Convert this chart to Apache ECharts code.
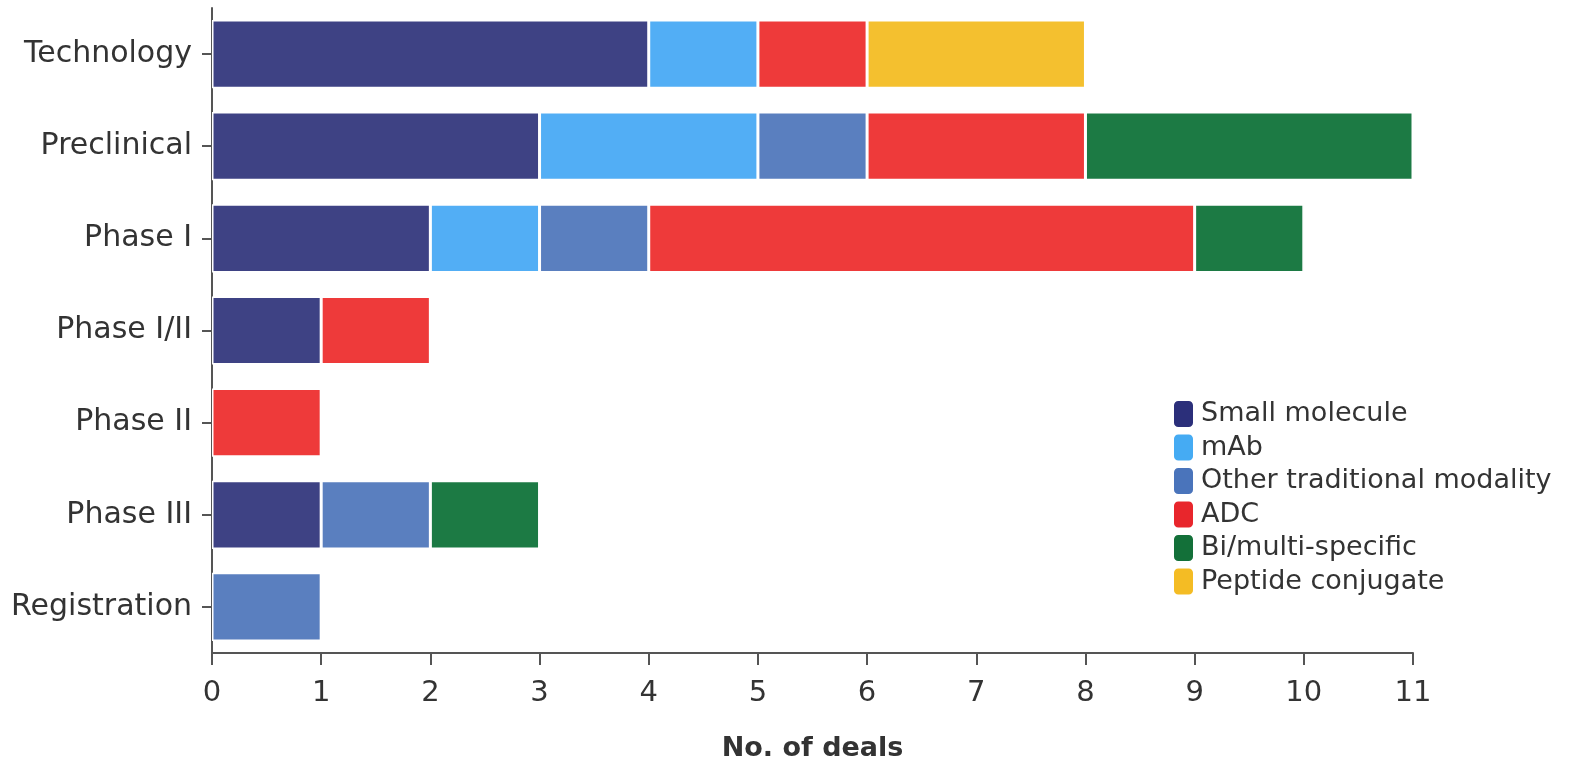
<!DOCTYPE html>
<html><head><meta charset="utf-8">
<script src="https://cdn.jsdelivr.net/npm/echarts@6/dist/echarts.min.js"></script>
<style>html,body{margin:0;padding:0;background:#fff}#c{width:1580px;height:762px}</style>
</head><body><div id="c"></div>
<script>
const categories = ['Technology','Preclinical','Phase I','Phase I/II','Phase II','Phase III','Registration'];
const seriesNames = ['Small molecule','mAb','Other traditional modality','ADC','Bi/multi-specific','Peptide conjugate'];
const smallMolecule = [4,3,2,1,0,1,0];
const mAb = [1,2,1,0,0,0,0];
const otherTraditional = [0,1,1,0,0,1,1];
const adc = [1,2,5,1,1,0,0];
const biMulti = [0,3,1,0,0,1,0];
const peptide = [2,0,0,0,0,0,0];
const xTicks = [0,1,2,3,4,5,6,7,8,9,10,11];
const colors = ['#3e4284','#52aef5','#5a7fbf','#ee3a3a','#1c7a44','#f4c02f'];
const legendColors = ['#2b2f7a','#45abf3','#4a74bb','#e8262c','#137039','#f4bc24'];
const values = [smallMolecule,mAb,otherTraditional,adc,biMulti,peptide];
const font = 'DejaVu Sans';
const chart = echarts.init(document.getElementById('c'));
chart.setOption({
  animation:false,
  grid:{left:212,right:167,top:8,bottom:109,containLabel:false,outerBoundsMode:'none'},
  legend:{
    orient:'vertical', left:1167, top:394,
    icon:'roundRect', itemWidth:21, itemHeight:28, itemGap:3.5,
    textStyle:{fontFamily:font,fontSize:27,color:'#333',padding:[0,0,0,2]},
    data: seriesNames.map((n,i)=>({name:n,itemStyle:{color:legendColors[i]}}))
  },
  xAxis:{
    type:'value', min:xTicks[0], max:xTicks[xTicks.length-1], interval:1,
    splitLine:{show:false},
    axisLine:{show:true,lineStyle:{color:'#555',width:2}},
    axisTick:{show:true,length:12,lineStyle:{color:'#555',width:2}},
    axisLabel:{fontFamily:font,fontSize:29,color:'#333',margin:26},
    name:'No. of deals', nameLocation:'middle', nameGap:82,
    nameTextStyle:{fontFamily:font,fontSize:27,fontWeight:'bold',color:'#333'}
  },
  yAxis:{
    type:'category', data:categories, inverse:true,
    axisLine:{show:true,lineStyle:{color:'#555',width:2}},
    axisTick:{show:true,length:10,alignWithLabel:true,lineStyle:{color:'#555',width:2}},
    axisLabel:{fontFamily:font,fontSize:30,color:'#333',margin:20}
  },
  series: seriesNames.map((n,i)=>({
    name:n, type:'bar', stack:'total', barCategoryGap:'26%',
    itemStyle:{color:colors[i],borderColor:'#fff',borderWidth:1.5},
    data: values[i].map(v=> v===0 ? null : v)
  }))
});
</script></body></html>
